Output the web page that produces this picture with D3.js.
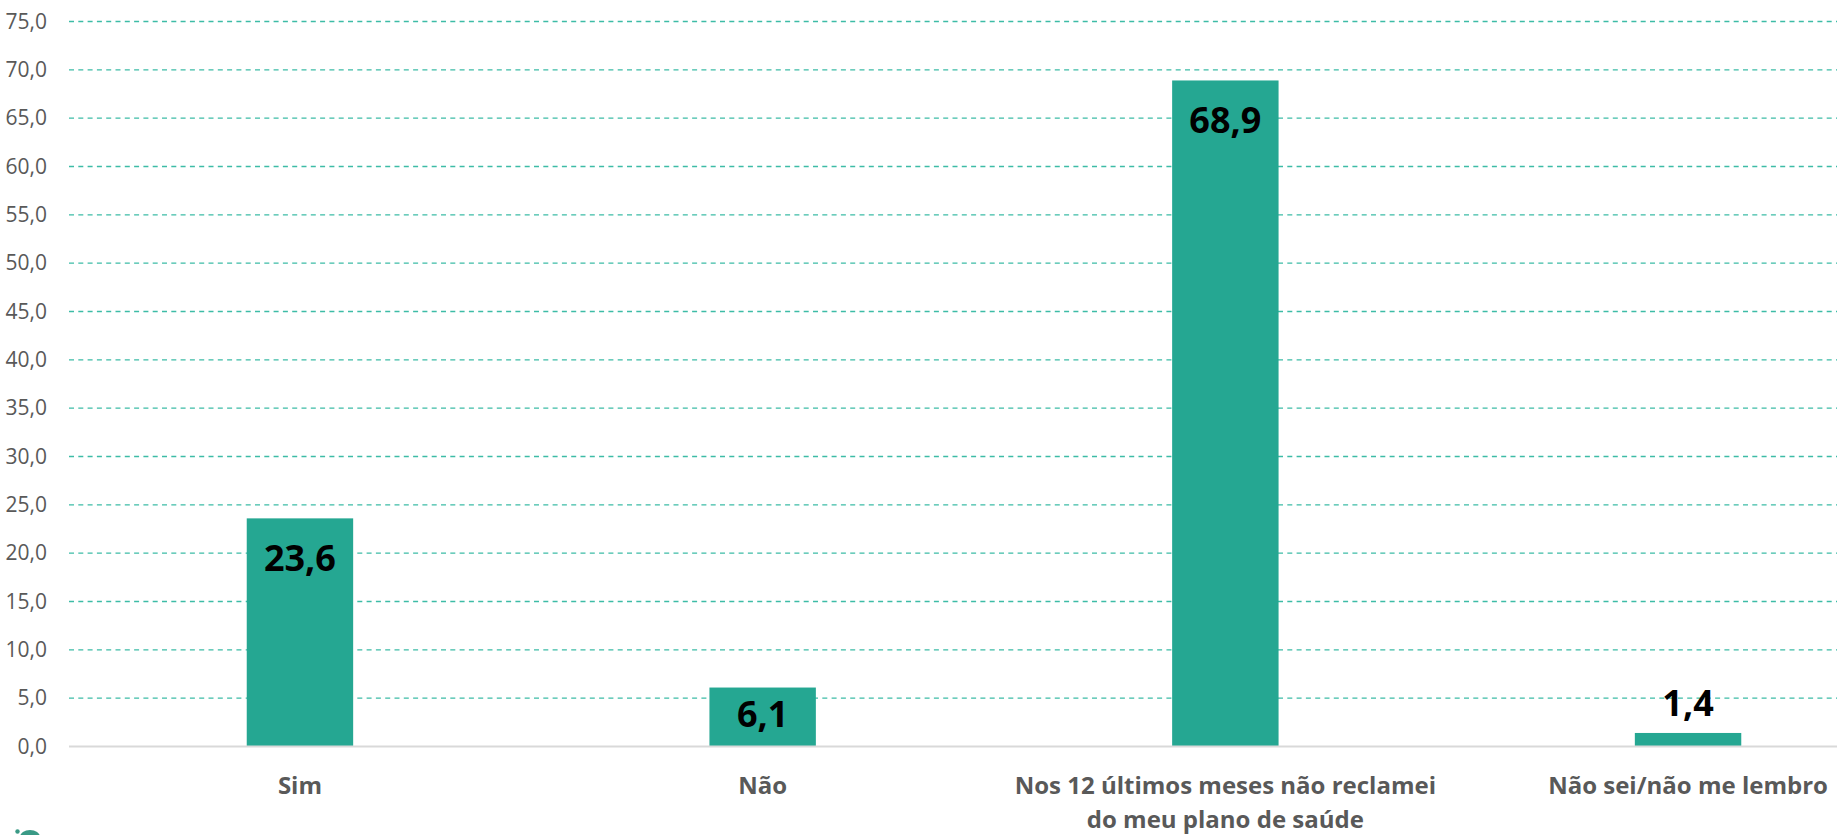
<!DOCTYPE html>
<html lang="pt">
<head>
<meta charset="utf-8">
<script src="https://cdn.jsdelivr.net/npm/d3@7"></script>
<style>
  html, body { margin: 0; padding: 0; background: #ffffff; }
  svg { display: block; }
  text { font-family: "Open Sans", "Noto Sans", sans-serif; }
</style>
</head>
<body>
<svg id="chart" width="1837" height="835"></svg>
<script>
// Answers to the survey question, share of respondents (%)
const categories = [
  "Sim",
  "Não",
  "Nos 12 últimos meses não reclamei|do meu plano de saúde",
  "Não sei/não me lembro"
];
const values = [23.6, 6.1, 68.9, 1.4];
const yTicks = [0, 5, 10, 15, 20, 25, 30, 35, 40, 45, 50, 55, 60, 65, 70, 75];

const W = 1837, H = 835;
const barColor = "#25a792";
const gridColor = "#3dbca6";
const textGray = "#595959";
const fmt = v => d3.format(".1f")(v).replace(".", ",");

const svg = d3.select("#chart");

const x = d3.scaleBand()
  .domain(categories)
  .range([68.6, 1919.4])
  .paddingInner(0.77)
  .paddingOuter(0.385);

const y = d3.scaleLinear()
  .domain([0, 75])
  .range([746.5, 21.5]);

// Horizontal gridlines
const grid = svg.append("g");
grid.selectAll("line")
  .data(yTicks.filter(t => t > 0))
  .join("line")
  .attr("x1", 69)
  .attr("x2", W)
  .attr("y1", d => y(d))
  .attr("y2", d => y(d))
  .attr("stroke", gridColor)
  .attr("stroke-width", 1.3)
  .attr("stroke-dasharray", "5 4.3");

// Y axis tick labels
const yAxis = d3.axisLeft(y)
  .tickValues(yTicks)
  .tickFormat(fmt)
  .tickSize(0)
  .tickPadding(0);
const gy = svg.append("g")
  .attr("transform", "translate(47,0)")
  .call(yAxis);
gy.select(".domain").remove();
gy.selectAll("text")
  .attr("fill", textGray)
  .attr("font-size", 21)
  .attr("font-family", "'Open Sans', 'Noto Sans', sans-serif");

// Bars
svg.append("g")
  .selectAll("rect")
  .data(values)
  .join("rect")
  .attr("x", (d, i) => x(categories[i]))
  .attr("width", x.bandwidth())
  .attr("y", d => y(d))
  .attr("height", d => y(0) - y(d))
  .attr("fill", barColor);

// Baseline
svg.append("line")
  .attr("x1", 69)
  .attr("x2", W)
  .attr("y1", y(0))
  .attr("y2", y(0))
  .attr("stroke", "#d9d9d9")
  .attr("stroke-width", 2);

// Value labels: inside the bar top when it fits, otherwise above it
svg.append("g")
  .selectAll("text")
  .data(values)
  .join("text")
  .attr("x", (d, i) => x(categories[i]) + x.bandwidth() / 2)
  .attr("y", d => {
    const top = y(d), h = y(0) - y(d);
    if (h >= 50) {
      const c = Math.min(top + 40, top + h / 2 - 3);
      return c + 13;
    }
    return top - 17;
  })
  .attr("text-anchor", "middle")
  .attr("font-size", 36)
  .attr("font-weight", 700)
  .attr("fill", "#000000")
  .text(fmt);

// Category labels
const xl = svg.append("g");
categories.forEach(c => {
  const t = xl.append("text")
    .attr("x", x(c) + x.bandwidth() / 2)
    .attr("y", 794)
    .attr("text-anchor", "middle")
    .attr("font-size", 24)
    .attr("font-weight", 700)
    .attr("fill", textGray);
  c.split("|").forEach((line, k) => {
    t.append("tspan")
      .attr("x", x(c) + x.bandwidth() / 2)
      .attr("dy", k === 0 ? 0 : 34)
      .text(line);
  });
});

// Logo fragment at the lower-left edge
const logo = svg.append("g").attr("fill", "#3a9a86");
logo.append("circle").attr("cx", 17.5).attr("cy", 831.5).attr("r", 2.2);
logo.append("ellipse").attr("cx", 30).attr("cy", 837).attr("rx", 10).attr("ry", 7);
</script>
</body>
</html>
